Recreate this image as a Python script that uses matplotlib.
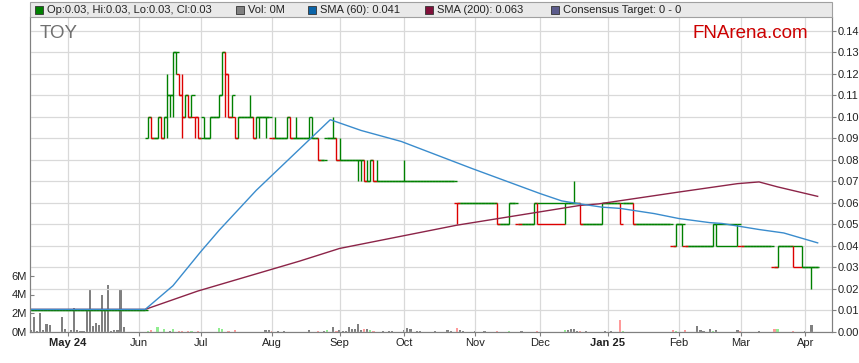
import numpy as np
import pandas as pd
import matplotlib
matplotlib.use("Agg")
import matplotlib.pyplot as plt
from matplotlib.patches import Rectangle

plt.rcParams['font.family'] = ['Liberation Sans', 'DejaVu Sans']

# eje de dias habiles que muestra el grafico
inicio = "2024-04-15"
fin_eje = "2025-04-11"

# cierres en centavos, un valor por dia habil desde el 15 abr 2024 (None = sin operaciones)
closes = (
    [1.0, 1.0, 1.0, 1.0, 1.0, 1.0, 1.0, 1.0, 1.0, 1.0, 1.0, 1.0] +
    [1.0, 1.0, 1.0, 1.0, 1.0, 1.0, 1.0, 1.0, 1.0, 1.0, 1.0, 1.0, 1.0, 1.0, 1.0, 1.0, 1.0, 1.0, 1.0, 1.0, 1.0, 1.0, 1.0] +
    [1.0, 1.0, 1.0, 10, 9, 9, 10, 9, 10, 11, 11, 13, 13, 11, 10, 11, 10, 11, 10, 9] +
    [9, 9, 9, 10, 10, 10, 11, 13, 12, 10, 11, 9, 10, 10, 10, 10, 10, 9, 10, 10, 10, 10, 10] +
    [9, 9, 9, 9, 9, 10, 9, 9, 9, 9, 9, 9, 9, 9, 9, 8, 8, 8, 9, 9, 9, 8] +
    [8, 8, 8, 8, 8, 8, 8, 8, 7, 7, 8, 7, 7, 7, 7, 7, 7, 7, 7, 7, 7] +
    [7, 7, 7, 7, 7, 7, 7, 7, 7, 7, 7, 7, 7, 7, 7, 7, 7, 6, 6, 6, 6, 6, 6] +
    [6, 6, 6, 6, 6, 6, 6, 5, 5, 5, 5, 6, 6, 6, 5, 5, 5, 5, 5, 6, 5] +
    [None, None, None, None, None, None, None, None, 6, 6, 6, 6, 6, 5, 5, 5, 5, 5, 5, 5, 6, 6] +
    [6, 6, 6, 6, 5, 6, 6, 6, 5, 5, 5, 5, 5, 5, 5, 5, 5, 5, 5, 5, 5, 4, 5] +
    [5, 5, 4, 4, 4, 4, 4, 4, 4, 4, 4, 5, 5, None, None, None, None, None, None, 5] +
    [4, 4, 4, 4, 4, 4, 4, 4, 4, 4, 4, 3, 4, 4, 4, 4, 4, 3, None, None, 3] +
    [3, 3, 3, 3, 3]
)

# dias con rango (apertura, maximo, minimo en centavos)
bar_days = ["2024-06-06", "2024-06-07", "2024-06-11", "2024-06-12", "2024-06-13", "2024-06-14",
            "2024-06-17", "2024-06-18", "2024-06-19", "2024-06-20", "2024-06-21", "2024-06-24",
            "2024-06-25", "2024-06-26", "2024-06-27", "2024-06-28", "2024-07-02", "2024-07-04",
            "2024-07-09", "2024-07-10", "2024-07-11", "2024-07-12", "2024-07-15", "2024-07-16",
            "2024-07-17", "2024-07-23", "2024-07-24", "2024-07-25", "2024-07-26", "2024-07-30",
            "2024-08-02", "2024-08-08", "2024-08-09", "2024-08-13", "2024-08-19", "2024-08-20",
            "2024-08-22", "2024-08-29", "2024-08-30", "2024-09-02", "2024-09-10", "2024-09-11",
            "2024-09-12", "2024-09-13", "2024-09-16", "2024-09-17", "2024-09-18", "2024-10-01",
            "2024-10-24", "2024-11-12", "2024-11-18", "2024-11-28", "2024-11-29", "2024-12-12",
            "2024-12-17", "2024-12-19", "2024-12-30", "2025-01-07", "2025-01-13", "2025-01-31",
            "2025-02-04", "2025-02-18", "2025-02-19", "2025-02-28", "2025-03-19", "2025-03-26",
            "2025-03-31", "2025-04-03"]
bar_open = [9, 10, 9, 10, 9, 10, 11, 11, 13, 12, 11, 10, 11, 10, 10, 10, 10, 9,
            10, 11, 13, 12, 10, 10, 9, 10, 10, 9, 10, 10, 9, 9, 10, 9, 9, 10,
            9, 9, 9, 8, 8, 8, 8, 7, 7, 8, 7, 7, 6, 6, 5, 5, 6, 6,
            6, 6, 5, 6, 6, 4, 5, 4, 5, 4, 3, 4,
            4, 3]
bar_high = [10, 10, 10, 10, 10, 12, 11, 13, 13, 12, 12, 11, 11, 11, 10, 10, 10, 10,
            11, 13, 13, 12, 11, 10, 10, 11, 10, 10, 10, 10, 10, 10, 10, 10, 10, 10,
            9, 10, 9, 9, 8, 8, 8, 8, 8, 8, 8, 8, 6, 6, 6, 6, 6, 6,
            7, 6, 6, 6, 6, 5, 5, 5, 5, 5, 4, 4,
            4, 3]
bar_low = [9, 9, 9, 9, 9, 9, 10, 10, 12, 11, 9, 10, 10, 10, 9, 9, 9, 9,
           10, 11, 10, 10, 10, 9, 9, 10, 9, 9, 9, 9, 9, 9, 9, 9, 9, 9,
           8, 9, 8, 8, 7, 7, 7, 7, 7, 7, 7, 7, 5, 5, 5, 5, 5, 5,
           6, 5, 5, 5, 5, 4, 4, 4, 4, 4, 3, 3,
           3, 2]

# volumen en millones, un valor por dia habil
volumes = (
    [0.25, 1.6, 0.15, 2.0, 0.25, 0.9, 0.8, 0, 0, 0, 1.6, 0.35] +
    [0, 0.25, 2.55, 0.25, 0.15, 0.15, 2.4, 4.6, 0.6, 0.95, 0.7, 3.9, 2.2, 5.05, 0.15, 0.25, 0.2, 4.6, 0.55, 0, 0, 0, 0] +
    [0, 0, 0, 0.1, 0.25, 0, 0.5, 0, 0.35, 0, 0.1, 0.35, 0, 0.1, 0.1, 0, 0.1, 0.1, 0, 0.1] +
    [0, 0, 0, 0, 0, 0, 0.45, 0.35, 0, 0.1, 0, 0.25, 0, 0, 0, 0, 0, 0, 0, 0, 0, 0.2, 0.2] +
    [0.1, 0, 0.1, 0, 0.1, 0, 0, 0, 0, 0, 0, 0, 0.25, 0, 0, 0.1, 0, 0.1, 0.2, 0, 0.57, 0.15] +
    [0.2, 0.15, 0.15, 0.57, 0.3, 0.35, 0.9, 0.25, 0.3, 0.3, 0.2, 0.1, 0, 0, 0.1, 0, 0.1, 0.1, 0, 0, 0] +
    [0.25, 0.45, 0.3, 0, 0.1, 0.1, 0, 0, 0, 0, 0.1, 0, 0, 0, 0.25, 0.15, 0, 0.43, 0.25, 0.15, 0, 0, 0] +
    [0.1, 0, 0, 0.15, 0, 0, 0, 0.1, 0, 0, 0, 0.1, 0, 0, 0, 0.1, 0, 0, 0, 0, 0.1] +
    [0, 0, 0, 0, 0, 0, 0, 0, 0.2, 0.2, 0.35, 0.3, 0.15, 0.1, 0, 0.15, 0, 0, 0, 0, 0, 0.1] +
    [0, 0.1, 0, 0, 1.3, 0.1, 0, 0, 0, 0, 0, 0, 0, 0, 0, 0, 0, 0, 0, 0, 0, 0.2, 0.1] +
    [0, 0, 0.2, 0, 0, 0, 0.6, 0.25, 0.15, 0, 0.3, 0.1, 0.2, 0, 0, 0, 0, 0, 0, 0.2] +
    [0.1, 0, 0, 0, 0, 0, 0.1, 0, 0, 0, 0, 0.3, 0.3, 0, 0, 0, 0, 0.1, 0, 0, 0] +
    [0.1, 0, 0.7, 0, 0]
)

# medias moviles
sma60_dates = ["2024-04-15", "2024-06-05", "2024-06-18", "2024-07-01", "2024-07-09", "2024-07-25",
               "2024-08-28", "2024-09-11", "2024-09-30", "2024-10-31", "2024-12-02",
               "2024-12-11", "2024-12-18", "2024-12-30", "2025-01-07", "2025-01-22", "2025-02-03",
               "2025-02-17", "2025-02-21", "2025-03-11", "2025-03-21", "2025-04-07"]
sma60_vals = [0.0105, 0.0105, 0.0215, 0.0373, 0.0473, 0.0658,
              0.0986, 0.0936, 0.0885, 0.0759, 0.0643,
              0.0609, 0.0597, 0.0580, 0.0574, 0.055, 0.0527,
              0.0508, 0.0504, 0.0476, 0.046, 0.0414]
sma200_dates = ["2024-04-15", "2024-06-05", "2024-06-28", "2024-08-14", "2024-09-02", "2024-10-24",
                "2024-12-19", "2024-12-27", "2025-02-03", "2025-02-28", "2025-03-11", "2025-03-19",
                "2025-04-07"]
sma200_vals = [0.0105, 0.0105, 0.019, 0.0329, 0.0388, 0.0496,
               0.0588, 0.0595, 0.065, 0.0689, 0.0697, 0.0674,
               0.063]

price_ticks = [0.00, 0.01, 0.02, 0.03, 0.04, 0.05, 0.06, 0.07, 0.08, 0.09, 0.10, 0.11, 0.12, 0.13, 0.14]
vol_ticks = [0, 2, 4, 6]

dias = pd.bdate_range(inicio, fin_eje)
pos = {d: i for i, d in enumerate(dias)}
n = len(closes)
x = np.arange(n)

cierre = np.array([np.nan if c is None else c for c in closes], dtype=float) / 100
apert = cierre.copy()
alto = cierre.copy()
bajo = cierre.copy()
for d, o, h, l in zip(bar_days, bar_open, bar_high, bar_low):
    i = pos[pd.Timestamp(d)]
    apert[i] = o / 100
    alto[i] = h / 100
    bajo[i] = l / 100

# solo dias operados; las marcas de apertura/cierre llegan hasta la barra vecina
op = np.where(~np.isnan(cierre))[0]
xo = op.astype(float)
izq = np.r_[xo[0] - 0.5, xo[:-1]]
der = np.r_[xo[1:], xo[-1] + 0.5]
c_op = cierre[op]
c_prev = np.r_[c_op[0], c_op[:-1]]
col_precio = np.where(c_op < c_prev - 1e-9, '#dd0000', '#008000')

vol = np.array(volumes)
c_full = pd.Series(cierre).ffill().values
p_full = np.r_[c_full[0], c_full[:-1]]
col_vol = np.where(c_full < p_full - 1e-9, '#ff9a9a',
                   np.where(c_full > p_full + 1e-9, '#90ee90', '#808080'))

W, H = 859, 363
fig = plt.figure(figsize=(W / 100, H / 100), dpi=100)
axp = fig.add_axes([30 / W, (H - 332) / H, (832 - 30) / W, (332 - 17) / H])
axv = axp.twinx()
axp.set_zorder(axv.get_zorder() + 1)
axp.patch.set_visible(False)

# volumen
axv.bar(x, vol * 1e6, width=0.7, color=col_vol, linewidth=0)
axv.set_ylim(0, 33.6e6)
axv.yaxis.tick_left()
axv.set_yticks([v * 1e6 for v in vol_ticks])
axv.set_yticklabels([f"{v}M" for v in vol_ticks])
axv.tick_params(axis='y', direction='in', length=3, color='#808080', labelsize=8,
                labelcolor='#222222', pad=2)

# precio OHLC
axp.hlines(apert[op], izq, xo, colors=col_precio, lw=1.0)
axp.hlines(c_op, xo, der, colors=col_precio, lw=1.0)
axp.vlines(xo, bajo[op], alto[op], colors=col_precio, lw=1.0)

axp.plot([pos[pd.Timestamp(d)] for d in sma200_dates], sma200_vals, color='#8c2448', lw=1.0)
axp.plot([pos[pd.Timestamp(d)] for d in sma60_dates], sma60_vals, color='#3a8ccd', lw=1.0)

axp.set_xlim(-0.35, 259.65)
axp.set_ylim(0, 0.1463)
axp.yaxis.tick_right()
axp.set_yticks(price_ticks)
axp.set_yticklabels([f"{p:.2f}" for p in price_ticks])
axp.tick_params(axis='y', direction='out', length=3, color='#808080', labelsize=8,
                labelcolor='#222222', pad=1)

# meses en el eje x
meses = []
etiquetas = []
ultimo = None
for i, d in enumerate(dias):
    if ultimo is not None and d.month != ultimo:
        meses.append(i)
        if d.month in (1, 5):
            etiquetas.append(d.strftime("%b %y"))
        else:
            etiquetas.append(d.strftime("%b"))
    ultimo = d.month
axp.set_xticks(meses)
axp.set_xticklabels(etiquetas)
axp.tick_params(axis='x', direction='out', length=3, color='#808080', labelsize=8,
                labelcolor='#222222', pad=1)
for t in axp.get_xticklabels():
    if t.get_text() in ("May 24", "Jan 25"):
        t.set_fontweight('bold')

axp.grid(True, color='#d9d9d9', lw=0.9)
axp.set_axisbelow(True)
for a in (axp, axv):
    a.spines['top'].set_visible(False)
    for s in ('left', 'right', 'bottom'):
        a.spines[s].set_color('#808080')

# banda de leyenda
fig.patches.append(Rectangle((30 / W, (H - 17) / H), (832 - 30) / W, 15 / H,
                             transform=fig.transFigure, facecolor='#e9e9e9',
                             edgecolor='#a0a0a0', lw=0.8))
leyenda = [(35, '#008000', "Op:0.03, Hi:0.03, Lo:0.03, Cl:0.03"),
           (236, '#808080', "Vol: 0M"),
           (308, '#0a64a8', "SMA (60): 0.041"),
           (425, '#80103a', "SMA (200): 0.063"),
           (551, '#5c5c8c', "Consensus Target: 0 - 0")]
for px, c, txt in leyenda:
    fig.patches.append(Rectangle((px / W, (H - 14) / H), 8 / W, 8 / H,
                                 transform=fig.transFigure, facecolor=c,
                                 edgecolor='#333333', lw=0.6))
    fig.text((px + 12) / W, (H - 10) / H, txt, fontsize=8, color='#222222', va='center')

fig.text(40 / W, (H - 33) / H, "TOY", fontsize=13.5, color='#707070', va='center')
fig.text(808 / W, (H - 34) / H, "FNArena.com", fontsize=13.5, color='#cc0000',
         va='center', ha='right')

fig.savefig("out.png", dpi=100)
